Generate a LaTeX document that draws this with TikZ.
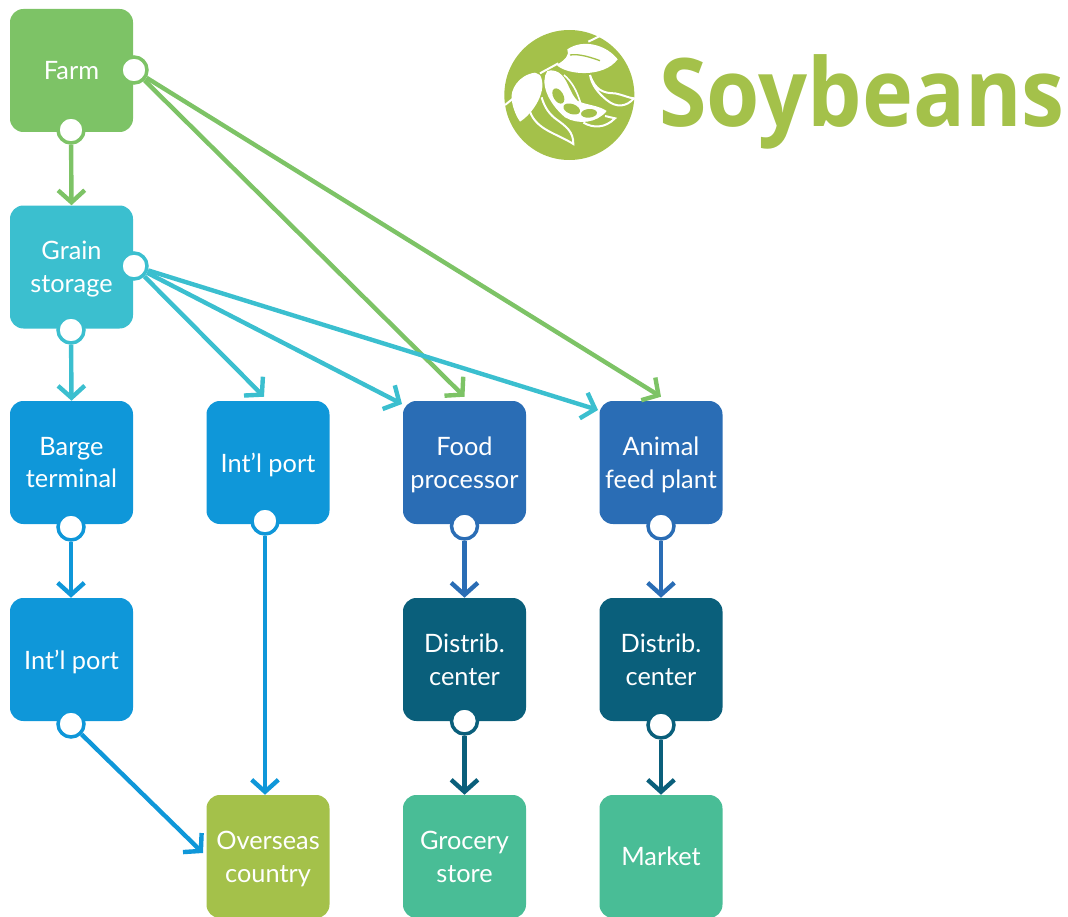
\documentclass[tikz,border=0pt]{standalone}
\usepackage{fontspec}
\setmainfont{Lato}
\newfontfamily\titlefont{Open Sans}
\usetikzlibrary{arrows.meta}
\definecolor{farmgreen}{HTML}{7DC366}
\definecolor{grainteal}{HTML}{3BBFCF}
\definecolor{portblue}{HTML}{0F97D9}
\definecolor{fooddark}{HTML}{2A6DB5}
\definecolor{distnavy}{HTML}{0A5F7B}
\definecolor{soyolive}{HTML}{A4C14A}
\definecolor{storegreen}{HTML}{49BD96}
\tikzset{
	box/.style={fill=#1, rounded corners=10pt, minimum size=92.25pt, inner sep=0pt, text=white, align=center, text depth=0pt, font=\fontsize{19}{24.5}\selectfont},
	port/.style={circle, fill=white, draw=#1, line width=2.6pt, minimum size=19.5pt, inner sep=0pt},
	link/.style={draw=#1, line width=3.3pt, -{Straight Barb[length=9pt,width=20pt,line width=3.3pt]}},
}

\begin{document}
\begin{tikzpicture}[x=0.75pt,y=-0.75pt]
	\useasboundingbox (0,0) rectangle (1068,917);
	% logo
	\begin{scope}[shift={(490,10)},x=0.25pt,y=-0.25pt]
		\fill[soyolive] (238,255) circle (195);
		\fill[white] (383,148) .. controls (350,105) and (280,85) .. (232,118) .. controls (240,135) and (225,150) .. (200,165) .. controls (230,195) and (340,205) .. (383,148);
		\fill[white] (135,188) .. controls (85,195) and (60,240) .. (65,270) .. controls (70,300) and (80,320) .. (90,335) .. controls (130,310) and (175,240) .. (150,195) -- cycle;
		\fill[white] (172,183) .. controls (150,215) and (170,275) .. (225,322) .. controls (265,345) and (320,340) .. (350,303) .. controls (325,285) and (285,285) .. (262,272) .. controls (240,250) and (235,215) .. (215,195) .. controls (205,183) and (185,178) .. (172,183);
		\fill[soyolive] (205,258) ellipse [x radius=25, y radius=15, rotate=-60];
		\fill[soyolive] (245,297) ellipse [x radius=26, y radius=15, rotate=-20];
		\fill[soyolive] (297,310) ellipse [x radius=24, y radius=13, rotate=5];
		\draw[white, line width=1.5pt] (295,95) -- (330,78);
		\draw[white, line width=1.5pt] (45,285) -- (70,265);
		\draw[white, line width=1.5pt] (150,190) -- (205,160);
		\draw[white, line width=1.2pt] (222,195) .. controls (245,215) and (260,240) .. (272,280);
		\draw[white, line width=1.5pt] (300,195) .. controls (315,240) and (340,250) .. (375,250) .. controls (400,255) and (420,265) .. (432,265) .. controls (410,290) and (380,295) .. (350,270) .. controls (325,250) and (305,225) .. (300,195);
		\draw[white, line width=1.5pt] (120,305) .. controls (140,360) and (200,370) .. (250,402) .. controls (250,365) and (230,350) .. (195,325) .. controls (170,305) and (160,280) .. (155,262);
		\draw[white, line width=1.5pt] (280,338) .. controls (310,355) and (345,355) .. (375,325) -- (345,318);
		\draw[soyolive, line width=1pt] (240,135) .. controls (270,130) and (310,145) .. (330,152);
	\end{scope}
	\node[text=soyolive, font=\fontsize{71}{71}\titlefont\bfseries, anchor=base west, inner sep=0pt] (title) at (659,127) {\scalebox{0.911}[1]{Soybeans}};
	% boxes
	\node[box=farmgreen] (farm) at (71.5,70.5) {Farm};
	\node[box=grainteal] (grain) at (71.5,267) {Grain\\storage};
	\node[box=portblue] (barge) at (71.5,462.5) {Barge\\terminal};
	\node[box=portblue] (intla) at (268,462.5) {Int’l port};
	\node[box=fooddark] (food) at (464.5,462.5) {Food\\processor};
	\node[box=fooddark] (feed) at (661,462.5) {Animal\\feed plant};
	\node[box=portblue] (intlb) at (71.5,659.5) {Int’l port};
	\node[box=distnavy] (dista) at (464.5,659.5) {Distrib.\\center};
	\node[box=distnavy] (distb) at (661,659.5) {Distrib.\\center};
	\node[box=soyolive] (over) at (268,856.5) {Overseas\\country};
	\node[box=storegreen] (store) at (464.5,856.5) {Grocery\\store};
	\node[box=storegreen] (market) at (661,856.5) {Market};
	% end points
	\coordinate (overw) at (203,853);
	\coordinate (graintofood) at (402,404);
	\coordinate (graintofeed) at (598,410);
	% ports
	\node[port=farmgreen] (farmr) at (134,70) {};
	\node[port=farmgreen] (farmb) at (71,130) {};
	\node[port=grainteal] (grainr) at (134,266) {};
	\node[port=grainteal] (grainb) at (71,330) {};
	\node[port=portblue] (bargeb) at (71,527) {};
	\node[port=portblue] (intlab) at (265,521) {};
	\node[port=fooddark] (foodb) at (464.5,526) {};
	\node[port=fooddark] (feedb) at (661,526) {};
	\node[port=portblue] (intlbb) at (71,724) {};
	\node[port=distnavy] (distab) at (464.5,721) {};
	\node[port=distnavy] (distbb) at (661,725) {};
	% links
	\draw[link=farmgreen] (farmb) -- (farm.south |- grain.north);
	\draw[link=farmgreen] (farmr) -- ([yshift=3pt]food.north);
	\draw[link=farmgreen] (farmr) -- ([yshift=3pt]feed.north);
	\draw[link=grainteal] (grainb) -- (grain.south |- barge.north);
	\draw[link=grainteal] (grainr) -- ([xshift=-3pt,yshift=3pt]intla.north);
	\draw[link=grainteal] (grainr) -- (graintofood);
	\draw[link=grainteal] (grainr) -- (graintofeed);
	\draw[link=portblue] (bargeb) -- (intlb.north -| bargeb);
	\draw[link=portblue] (intlab) -- (over.north -| intlab);
	\draw[link=portblue] (intlbb) -- (overw);
	\draw[link=fooddark] (foodb) -- (dista.north);
	\draw[link=fooddark] (feedb) -- (distb.north);
	\draw[link=distnavy] (distab) -- (store.north);
	\draw[link=distnavy] (distbb) -- (market.north);
\end{tikzpicture}
\end{document}
